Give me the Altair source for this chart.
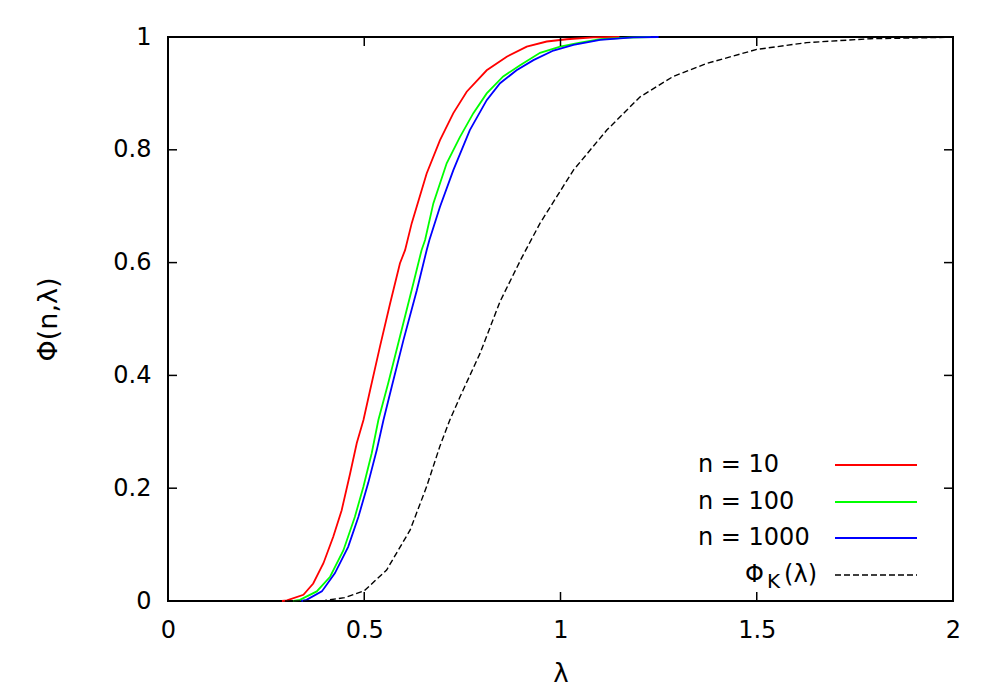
import altair as alt
import pandas as pd

# ---- data ----
lam_n10 = [0.29, 0.303, 0.345, 0.370, 0.396, 0.421, 0.4425, 0.464, 0.481, 0.498, 0.515, 0.540, 0.566, 0.591,
           0.604, 0.621, 0.659, 0.693, 0.727, 0.761, 0.812, 0.863, 0.914, 0.965, 1.016, 1.083, 1.15]
phi_n10 = [0.0, 0.001, 0.011, 0.031, 0.067, 0.114, 0.161, 0.226, 0.280, 0.321, 0.374, 0.451, 0.528, 0.599,
           0.622, 0.670, 0.758, 0.817, 0.865, 0.903, 0.941, 0.965, 0.983, 0.992, 0.996, 0.9995, 1.0]

lam_n100 = [0.32, 0.336, 0.379, 0.413, 0.447, 0.476, 0.498, 0.519, 0.536, 0.561, 0.591, 0.625, 0.646, 0.655,
            0.676, 0.710, 0.744, 0.778, 0.812, 0.854, 0.897, 0.948, 0.999, 1.050, 1.101, 1.17, 1.23]
phi_n100 = [0.0, 0.002, 0.017, 0.043, 0.090, 0.149, 0.203, 0.262, 0.321, 0.386, 0.469, 0.563, 0.622, 0.640,
            0.705, 0.776, 0.823, 0.865, 0.900, 0.930, 0.950, 0.972, 0.983, 0.990, 0.996, 0.999, 1.0]

lam_n1000 = [0.34, 0.353, 0.392, 0.425, 0.459, 0.485, 0.510, 0.532, 0.549, 0.570, 0.600, 0.634, 0.659, 0.666,
             0.693, 0.727, 0.769, 0.812, 0.846, 0.888, 0.931, 0.982, 1.033, 1.101, 1.185, 1.25]
phi_n1000 = [0.0, 0.002, 0.017, 0.049, 0.096, 0.149, 0.209, 0.268, 0.321, 0.380, 0.463, 0.551, 0.622, 0.640,
             0.699, 0.764, 0.835, 0.888, 0.918, 0.941, 0.959, 0.976, 0.986, 0.995, 0.9995, 1.0]

lam_k = [0.0, 0.37, 0.40, 0.45, 0.50, 0.557, 0.617, 0.659, 0.693, 0.718, 0.744, 0.795, 0.846, 0.90, 0.948,
         1.033, 1.118, 1.203, 1.287, 1.372, 1.5, 1.627, 1.79, 2.0]
phi_k = [0.0, 0.0, 0.001, 0.006, 0.018, 0.055, 0.126, 0.203, 0.275, 0.321, 0.362, 0.439, 0.531, 0.607, 0.670,
         0.764, 0.835, 0.894, 0.930, 0.953, 0.978, 0.990, 0.997, 0.9995]

series_names = ["n = 10", "n = 100", "n = 1000"]
series_colors = ["#ff0000", "#00ff00", "#0000ff"]

x_ticks = [0, 0.5, 1, 1.5, 2]
y_ticks = [0, 0.2, 0.4, 0.6, 0.8, 1]

FONT = "DejaVu Sans"
FS = 24
W, H = 785, 564

# ---- tables ----
rows = []
for name, xs, ys in zip(series_names, [lam_n10, lam_n100, lam_n1000], [phi_n10, phi_n100, phi_n1000]):
    for i, (a, b) in enumerate(zip(xs, ys)):
        rows.append({"lam": a, "phi": b, "series": name, "order": i})
df_emp = pd.DataFrame(rows)
df_k = pd.DataFrame({"lam": lam_k, "phi": phi_k})

x_scale = alt.Scale(domain=[0, 2], nice=False, zero=False)
y_scale = alt.Scale(domain=[0, 1], nice=False, zero=False)

x_axis = alt.Axis(values=x_ticks, format="~g", title="λ", ticks=False, domain=False, grid=False,
                  labelPadding=17, titlePadding=18, labelFlush=False, titleFontSize=26)
y_axis = alt.Axis(values=y_ticks, format="~g", title="Φ(n,λ)", ticks=False, domain=False, grid=False,
                  labelPadding=17, titlePadding=50, labelFlush=False, titleFontSize=27)


def X():
    return alt.X("lam:Q", scale=x_scale, axis=x_axis)


def Y():
    return alt.Y("phi:Q", scale=y_scale, axis=y_axis)


emp = alt.Chart(df_emp).mark_line(strokeWidth=1.8).encode(
    x=X(), y=Y(), order="order:O",
    color=alt.Color("series:N", scale=alt.Scale(domain=series_names, range=series_colors), legend=None),
)

kol = alt.Chart(df_k).mark_line(strokeWidth=1.4, color="black", strokeDash=[6, 3]).encode(x=X(), y=Y())

# inward ticks on all four sides
df_xt = pd.DataFrame({"lam": x_ticks})
df_yt = pd.DataFrame({"phi": y_ticks})
TL = 9
xt_bottom = alt.Chart(df_xt).mark_rule(color="black", strokeWidth=1.5).encode(
    x=X(), y=alt.value(H), y2=alt.value(H - TL))
xt_top = alt.Chart(df_xt).mark_rule(color="black", strokeWidth=1.5).encode(
    x=X(), y=alt.value(0), y2=alt.value(TL))
yt_left = alt.Chart(df_yt).mark_rule(color="black", strokeWidth=1.5).encode(
    y=Y(), x=alt.value(0), x2=alt.value(TL))
yt_right = alt.Chart(df_yt).mark_rule(color="black", strokeWidth=1.5).encode(
    y=Y(), x=alt.value(W), x2=alt.value(W - TL))

# custom key (labels on the left, samples on the right, as in gnuplot)
leg_layers = []
row_y = [428, 465, 501, 538]
for i, name in enumerate(series_names):
    leg_layers.append(
        alt.Chart(pd.DataFrame({"t": [name]})).mark_text(
            align="left", baseline="middle", font=FONT, fontSize=FS, color="black"
        ).encode(text="t:N", x=alt.value(530), y=alt.value(row_y[i]))
    )
    leg_layers.append(
        alt.Chart(pd.DataFrame({"t": [name]})).mark_rule(color=series_colors[i], strokeWidth=1.8).encode(
            x=alt.value(667), x2=alt.value(749), y=alt.value(row_y[i]))
    )
# Φ_K(λ) with subscript K
leg_layers.append(alt.Chart(pd.DataFrame({"t": ["(λ)"]})).mark_text(
    align="right", baseline="middle", font=FONT, fontSize=FS, color="black"
).encode(text="t:N", x=alt.value(649), y=alt.value(row_y[3])))
leg_layers.append(alt.Chart(pd.DataFrame({"t": ["K"]})).mark_text(
    align="right", baseline="middle", font=FONT, fontSize=20, color="black"
).encode(text="t:N", x=alt.value(612), y=alt.value(row_y[3] + 7)))
leg_layers.append(alt.Chart(pd.DataFrame({"t": ["Φ"]})).mark_text(
    align="right", baseline="middle", font=FONT, fontSize=FS, color="black"
).encode(text="t:N", x=alt.value(596), y=alt.value(row_y[3])))
leg_layers.append(alt.Chart(pd.DataFrame({"t": ["k"]})).mark_rule(
    color="black", strokeWidth=1.4, strokeDash=[6, 3]
).encode(x=alt.value(667), x2=alt.value(749), y=alt.value(row_y[3])))

chart = alt.layer(emp, kol, xt_bottom, xt_top, yt_left, yt_right, *leg_layers).properties(
    width=W, height=H,
    padding={"left": 160, "top": 29, "right": 30, "bottom": 90},
    autosize=alt.AutoSizeParams(type="none"),
    background="white",
).configure_view(
    stroke="black", strokeWidth=2
).configure_axis(
    labelFont=FONT, labelFontSize=FS, labelColor="black",
    titleFont=FONT, titleFontSize=FS, titleColor="black", titleFontWeight="normal",
)

chart.save("out.html", embed_options={"renderer": "svg", "actions": False})
